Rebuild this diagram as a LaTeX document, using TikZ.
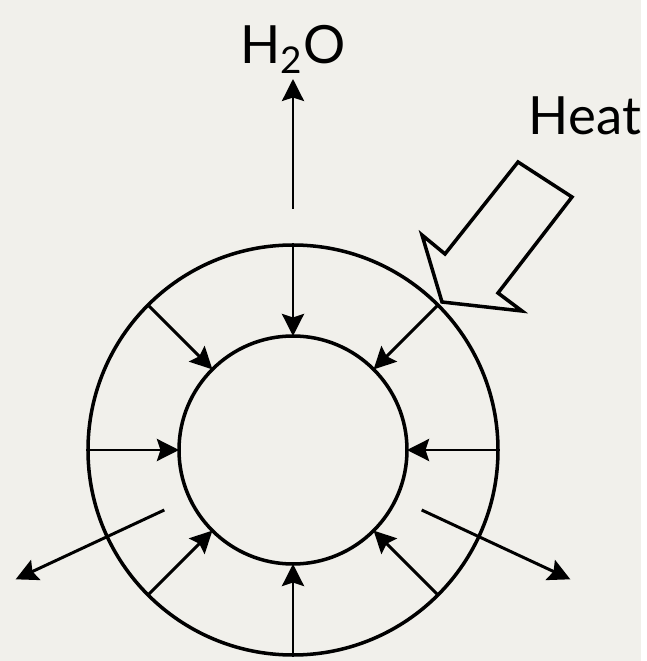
\documentclass[tikz,border=0pt]{standalone}
\usepackage{fontspec}
\setmainfont{Lato}
\usepackage{tikz}
\usetikzlibrary{positioning, arrows.meta}
\definecolor{paper}{RGB}{241,240,235}

\begin{document}
\begin{tikzpicture}[
    ring/.style={draw, circle, line width=1pt, outer sep=0pt, inner sep=0pt},
    flow/.style={-{Stealth[length=2.2mm, width=2.2mm, inset=0.35mm]}, line width=0.85pt},
    lbl/.style={inner sep=0.5mm, font=\fontsize{15}{18}\selectfont}
  ]
    \fill[paper] (-2.93,-2.11) rectangle (3.48,4.50);
    % Shell and core
    \node[ring, minimum size=4.1cm]  (shell) at (0,0) {};
    \node[ring, minimum size=2.28cm] (core)  at (0,0) {};
    % Inward flow
    \draw[flow] (shell.90)  -- (core.90);
    \draw[flow] (shell.135) -- (core.135);
    \draw[flow] (shell.180) -- (core.180);
    \draw[flow] (shell.225) -- (core.225);
    \draw[flow] (shell.270) -- (core.270);
    \draw[flow] (shell.315) -- (core.315);
    \draw[flow] (shell.0)   -- (core.0);
    \draw[flow] (shell.45)  -- (core.45);
    % Outward flow
    \coordinate (sw from) at (205:1.42);
    \coordinate (sw to)   at (205:3.06);
    \coordinate (se from) at (-25:1.42);
    \coordinate (se to)   at (-25:3.06);
    \draw[flow] (sw from) -- (sw to);
    \draw[flow] (se from) -- (se to);
    % Vapour leaving
    \coordinate[above=3.6mm of shell.north] (steam);
    \node[lbl, above=1.3cm of steam] (h2o) {H\textsubscript{2}O};
    \draw[flow] (steam) -- (h2o);
    % Heat supply
    \node[lbl, anchor=base] (heat) at (2.92,3.15) {Heat};
    \draw[line width=1pt, line join=miter]
      (2.25,2.88) -- (2.79,2.53) -- (2.05,1.57) -- (2.29,1.39)
      -- (1.49,1.48) -- (1.29,2.15) -- (1.52,1.96) -- cycle;
  \end{tikzpicture}
\end{document}
